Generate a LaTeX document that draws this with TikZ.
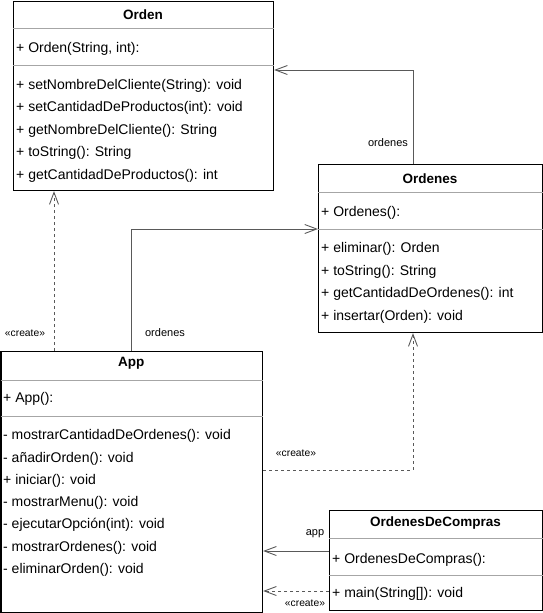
\documentclass[tikz,border=0pt]{standalone}
\usepackage{fontspec}
\setmainfont{Liberation Sans}
\usetikzlibrary{arrows.meta}

\tikzset{
  classbox/.style={draw=black, line width=1.1pt, inner sep=0, anchor=north west},
  sepline/.style={draw=gray!70, line width=0.9pt},
  classtitle/.style={font=\fontsize{13.5}{16}\selectfont\bfseries, inner sep=0, yshift=-0.5},
  member/.style={font=\fontsize{14}{16}\selectfont, inner sep=0, anchor=west, yshift=-1.5},
  lbl/.style={font=\fontsize{11}{13}\selectfont, inner sep=0},
  stereo/.style={font=\fontsize{10.3}{12}\selectfont, inner sep=0},
  assoc/.style={draw=gray!70!black, line width=0.9pt, -{Straight Barb[length=12pt,width=9pt]}},
  dep/.style={assoc, dash pattern=on 3pt off 3pt},
}

\begin{document}
\begin{tikzpicture}[x=1pt, y=-1pt]
\useasboundingbox (0,0) rectangle (543,613);

% Orden
\node[classbox, minimum width=260, minimum height=189.5] (orden) at (13,0.5) {};
\draw[sepline] ([yshift=-27.5]orden.north west) -- ([yshift=-27.5]orden.north east);
\draw[sepline] ([yshift=-64.5]orden.north west) -- ([yshift=-64.5]orden.north east);
\node[classtitle] (orden-t) at (143,14) {Orden};
\node[member] (orden-c) at (16,47) {+ Orden(String, int):};
\node[member] (orden-m1) at (16,84) {+ setNombreDelCliente(String): void};
\node[member] (orden-m2) at (16,106.5) {+ setCantidadDeProductos(int): void};
\node[member] (orden-m3) at (16,129) {+ getNombreDelCliente(): String};
\node[member] (orden-m4) at (16,151.5) {+ toString(): String};
\node[member] (orden-m5) at (16,174) {+ getCantidadDeProductos(): int};

% Ordenes
\node[classbox, minimum width=224, minimum height=168] (ordenes) at (318,164) {};
\draw[sepline] ([yshift=-28]ordenes.north west) -- ([yshift=-28]ordenes.north east);
\draw[sepline] ([yshift=-65]ordenes.north west) -- ([yshift=-65]ordenes.north east);
\node[classtitle] (ordenes-t) at (430,178) {Ordenes};
\node[member] (ordenes-c) at (321,211) {+ Ordenes():};
\node[member] (ordenes-m1) at (321,247) {+ eliminar(): Orden};
\node[member] (ordenes-m2) at (321,270) {+ toString(): String};
\node[member] (ordenes-m3) at (321,292.5) {+ getCantidadDeOrdenes(): int};
\node[member] (ordenes-m4) at (321,315) {+ insertar(Orden): void};

% App
\node[classbox, minimum width=261.5, minimum height=261] (app) at (0.5,351) {};
\draw[sepline] ([yshift=-29]app.north west) -- ([yshift=-29]app.north east);
\draw[sepline] ([yshift=-65]app.north west) -- ([yshift=-65]app.north east);
\node[classtitle] (app-t) at (131.25,363) {App};
\node[member] (app-c) at (3,397) {+ App():};
\node[member] (app-m1) at (3,434) {- mostrarCantidadDeOrdenes(): void};
\node[member] (app-m2) at (3,457) {- añadirOrden(): void};
\node[member] (app-m3) at (3,479) {+ iniciar(): void};
\node[member] (app-m4) at (3,501) {- mostrarMenu(): void};
\node[member] (app-m5) at (3,523.5) {- ejecutarOpción(int): void};
\node[member] (app-m6) at (3,546) {- mostrarOrdenes(): void};
\node[member] (app-m7) at (3,568) {- eliminarOrden(): void};

% OrdenesDeCompras
\node[classbox, minimum width=213, minimum height=100] (odc) at (329,510) {};
\draw[sepline] ([yshift=-28]odc.north west) -- ([yshift=-28]odc.north east);
\draw[sepline] ([yshift=-65]odc.north west) -- ([yshift=-65]odc.north east);
\node[classtitle] (odc-t) at (435.5,523) {OrdenesDeCompras};
\node[member] (odc-c) at (332,558) {+ OrdenesDeCompras():};
\node[member] (odc-m1) at (332,592) {+ main(String[]): void};

% relations
\draw[assoc] ([xshift=-17]ordenes.north) |- ([yshift=-69.5]orden.north east);
\node[lbl] (ordenes-lbl1) at (388,143) {ordenes};
\draw[assoc] (app.north) |- ([yshift=-65]ordenes.north west);
\node[lbl] (ordenes-lbl2) at (165,333) {ordenes};
\draw[dep] ([xshift=53.5]app.north west) -- ([xshift=41]orden.south west);
\node[stereo] (create-lbl1) at (25,333) {«create»};
\draw[dep] ([yshift=-119]app.north east) -| ([xshift=95]ordenes.south west);
\node[stereo] (create-lbl2) at (296,453) {«create»};
\draw[assoc] ([yshift=-41]odc.north west) coordinate (odc-a) -- (odc-a -| app.east);
\node[lbl] (app-lbl) at (315,534) {app};
\draw[dep] ([yshift=-81]odc.north west) coordinate (odc-b) -- (odc-b -| app.east);
\node[stereo] (create-lbl3) at (305,603) {«create»};
\end{tikzpicture}
\end{document}
